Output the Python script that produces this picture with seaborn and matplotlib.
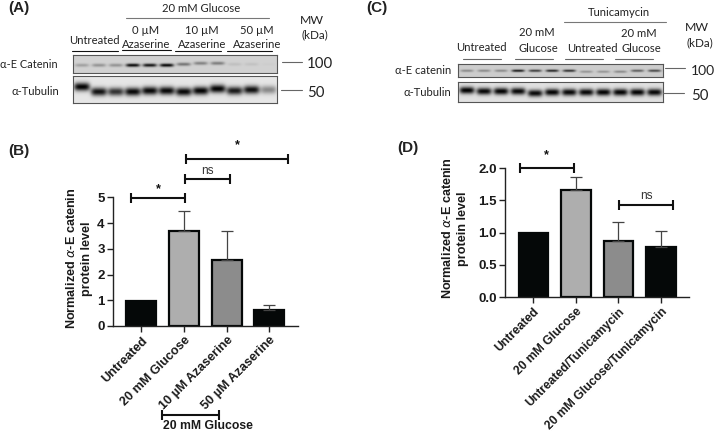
import numpy as np
import pandas as pd
import seaborn as sns
import matplotlib.pyplot as plt

W, H = 715, 432

# bar data
b_labels = ['Untreated', '20 mM Glucose', '10 µM Azaserine', '50 µM Azaserine']
b_values = [0.98, 3.70, 2.55, 0.63]
b_err = [0.0, 0.77, 1.13, 0.19]
b_colors = ['#050808', '#aeaeae', '#8c8c8c', '#050808']

d_labels = ['Untreated', '20 mM Glucose', 'Untreated/Tunicamycin', '20 mM Glucose/Tunicamycin']
d_values = [0.99, 1.66, 0.87, 0.77]
d_err = [0.0, 0.21, 0.29, 0.26]
d_colors = ['#050808', '#aeaeae', '#8c8c8c', '#050808']

# blot band darkness per lane (0 = nothing, 1 = black), plus vertical shift in px
a_cat_dark = [0.22, 0.28, 0.28, 0.9, 0.85, 0.92, 0.42, 0.36, 0.38, 0.08, 0.07, 0.02]
a_cat_shift = [1, 1, 1, 1, 1, 1, 0, -1, -1, 0, 0, 0]
a_tub_dark = [0.98, 0.92, 0.78, 0.96, 0.96, 0.96, 0.96, 0.98, 0.98, 0.88, 0.93, 0.4]
a_tub_shift = [-3, 2, 2, 2, 1, 1, 2, 1, -1, 1, 0, 0]
c_cat_dark = [0.3, 0.3, 0.3, 0.8, 0.65, 0.75, 0.7, 0.25, 0.25, 0.3, 0.5, 0.6]
c_cat_shift = [0, 0, 0, 0, 0, 0, 0, 1, 1, 1, 0, 0]
c_tub_dark = [0.99, 0.96, 0.98, 0.96, 0.95, 0.98, 0.96, 0.96, 0.98, 0.98, 0.98, 0.96]
c_tub_shift = [-2, -1, -1, -1, 1, 0, 0, 0, 0, 0, 0, 0]

sns.set_style('ticks')
plt.rcParams['font.family'] = ['Liberation Sans', 'DejaVu Sans']
plt.rcParams['mathtext.fontset'] = 'dejavusans'

fig = plt.figure(figsize=(W / 100, H / 100), dpi=100)
fig.patch.set_facecolor('white')


def px_axes(x0, y0, x1, y1):
    return fig.add_axes([x0 / W, 1 - y1 / H, (x1 - x0) / W, (y1 - y0) / H])


def blot(x0, y0, x1, y1, dark, shift, bg, half_w, half_h):
    ax = px_axes(x0, y0, x1, y1)
    nx, ny = int((x1 - x0) * 2), int((y1 - y0) * 2)
    xx, yy = np.meshgrid(np.linspace(0, x1 - x0, nx), np.linspace(0, y1 - y0, ny))
    img = np.zeros((ny, nx))
    step = (x1 - x0) / len(dark)
    for i, d in enumerate(dark):
        cx = (i + 0.5) * step
        cy = (y1 - y0) / 2 + shift[i]
        img += d * np.exp(-((xx - cx) / half_w) ** 4 - ((yy - cy) / half_h) ** 2)
    sns.heatmap(pd.DataFrame(bg - img * bg), ax=ax, cmap='gray', vmin=0, vmax=1,
                cbar=False, xticklabels=False, yticklabels=False)
    ax.tick_params(length=0)
    for s in ax.spines.values():
        s.set_visible(True)
        s.set_color('#555555')
        s.set_linewidth(0.8)
    return ax


blot(73, 55, 277, 73, a_cat_dark, a_cat_shift, 0.82, 7.0, 1.8)
blot(73, 76, 277, 103, a_tub_dark, a_tub_shift, 0.9, 8.0, 4.2)
blot(458, 64, 663, 77, c_cat_dark, c_cat_shift, 0.8, 6.5, 1.4)
blot(458, 82, 663, 102, c_tub_dark, c_tub_shift, 0.88, 7.5, 3.6)


def bars(rect, labels, values, err, colors, ymax, yticks, yfmt, xsize):
    ax = px_axes(*rect)
    df = pd.DataFrame({'group': labels, 'value': values})
    sns.barplot(data=df, x='group', y='value', hue='group', palette=colors, dodge=False,
                width=0.7, saturation=1, edgecolor='#050808', linewidth=1.6, legend=False, ax=ax)
    ax.errorbar(range(1, 4), values[1:], yerr=[np.zeros(3), err[1:]], fmt='none',
                ecolor='#444444', elinewidth=0.9, capsize=4.5, capthick=0.9, zorder=1)
    ax.set_xlim(-0.663, 3.67)
    ax.set_ylim(0, ymax)
    ax.set_yticks(yticks)
    ax.set_yticklabels([yfmt % t for t in yticks], fontsize=9.5, fontweight='bold', color='#1a1a1a')
    ax.set_xticks(range(4))
    ax.set_xticklabels(labels, rotation=45, ha='right', rotation_mode='anchor',
                       fontsize=xsize, fontweight='bold', color='#1a1a1a')
    ax.set_xlabel('')
    ax.set_ylabel('')
    ax.tick_params(axis='both', length=4, width=1.0, color='#222222', pad=2)
    ax.patch.set_alpha(0)
    sns.despine(ax=ax)
    for s in ['left', 'bottom']:
        ax.spines[s].set_linewidth(1.0)
        ax.spines[s].set_color('#222222')
    return ax


def bracket(ax, x1, x2, y):
    ax.plot([x1, x2], [y, y], color='#111111', lw=1.5, marker='|', ms=7, mew=1.5, clip_on=False)


ax_b = bars((113, 197.3, 298, 326), b_labels, b_values, b_err, b_colors, 5, [0, 1, 2, 3, 4, 5], '%d', 9.1)
bracket(ax_b, -0.25, 1.03, 4.96)
bracket(ax_b, 1.03, 2.07, 5.7)
bracket(ax_b, 1.05, 3.44, 6.47)
bracket(ax_b, 0.48, 1.82, -3.46)

ax_d = bars((505.3, 168.3, 689.3, 297), d_labels, d_values, d_err, d_colors, 2, [0, 0.5, 1, 1.5, 2], '%.1f', 8.7)
bracket(ax_d, -0.31, 0.95, 2.0)
bracket(ax_d, 2.02, 3.28, 1.43)

# overlay in pixel coordinates for all the labelling
ov = fig.add_axes([0, 0, 1, 1], zorder=10)
ov.set_xlim(0, W)
ov.set_ylim(H, 0)
ov.axis('off')

blot_font = ['Lato', 'DejaVu Sans']


def t(x, y, s, size=8.1, ha='center', color='#222222'):
    ov.text(x, y, s, fontsize=size, ha=ha, va='center', color=color, family=blot_font)


def panel(x, y, s):
    ov.text(x, y, s, fontsize=11, fontweight='bold', ha='left', va='center', color='#222222')


def hline(x0, x1, y, color='#333333', lw=0.8):
    ov.plot([x0, x1], [y, y], color=color, lw=lw)


panel(8, 8, '(A)')
panel(8, 151, '(B)')
panel(366.5, 8, '(C)')
panel(397, 148, '(D)')

# panel A header
t(200.7, 8.3, '20 mM Glucose')
hline(126, 268.7, 18.3, '#777777')
t(146, 30.7, '0 µM')
t(146, 45, 'Azaserine')
t(94.3, 40.3, 'Untreated')
t(202, 30.7, '10 µM')
t(202, 45, 'Azaserine')
t(257, 30.7, '50 µM')
t(257, 45, 'Azaserine')
hline(72, 118, 50.7, '#111111')
hline(122, 170.7, 50.3, '#111111')
hline(175, 220.7, 50.7, '#111111')
hline(226.7, 271.7, 50.7, '#111111')
t(312, 21, 'MW', 8.8)
t(314.7, 35, '(kDa)', 8.4)
t(57.3, 64.3, 'α-E Catenin', 7.9, ha='right')
t(59, 91.7, 'α-Tubulin', ha='right')
hline(281.7, 301.7, 62, '#666666')
hline(281, 301.7, 90, '#666666')
t(306.7, 64, '100', 10.8, ha='left')
t(306.7, 92.7, '50', 10.8, ha='left')

# panel C header
t(619.3, 12, 'Tunicamycin')
hline(564, 665.7, 22.3, '#777777')
t(481.7, 47.7, 'Untreated')
t(537.3, 33, '20 mM')
t(538, 48.3, 'Glucose')
t(592.3, 48.3, 'Untreated')
t(639, 33.7, '20 mM')
t(641, 48.3, 'Glucose')
hline(462.7, 500.7, 59.3, '#666666')
hline(515.3, 553.3, 59.3, '#666666')
hline(565.3, 603.3, 59.3, '#666666')
hline(615, 652.7, 59.3, '#666666')
t(697.3, 27.3, 'MW', 8.8)
t(700, 42.3, '(kDa)', 8.4)
t(451.7, 70.7, 'α-E catenin', ha='right')
t(451.7, 93, 'α-Tubulin', ha='right')
hline(665, 685, 68.3, '#666666')
hline(662.7, 684, 93.3, '#666666')
t(691, 70.7, '100', 10, ha='left')
t(691, 96, '50', 10.8, ha='left')

# bar panel labels
ylab = 'Normalized $\\alpha$-E catenin\nprotein level'
ov.text(79, 258.7, ylab, rotation=90, ha='center', va='center', fontsize=9.1,
        fontweight='bold', color='#1a1a1a', linespacing=1.4)
ov.text(455, 228.7, ylab, rotation=90, ha='center', va='center', fontsize=9.1,
        fontweight='bold', color='#1a1a1a', linespacing=1.4)
ov.text(208, 425.7, '20 mM Glucose', ha='center', va='center', fontsize=8.8,
        fontweight='bold', color='#1a1a1a')
for x, y in [(158.7, 189), (237, 145), (546.7, 155)]:
    ov.text(x, y, '*', ha='center', va='center', fontsize=9, fontweight='bold', color='#111111')
for x, y in [(207, 170.7), (646, 195.7)]:
    ov.text(x, y, 'ns', ha='center', va='center', fontsize=8.5, color='#333333')

fig.savefig('out.png', dpi=100)
